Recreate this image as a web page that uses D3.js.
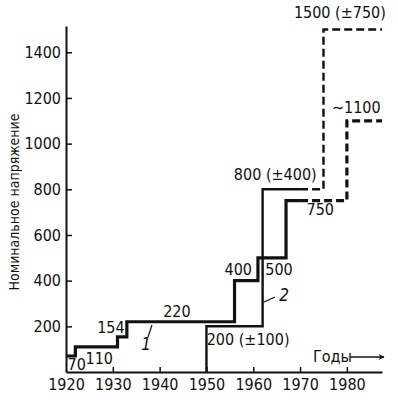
<!DOCTYPE html>
<html>
<head>
<meta charset="utf-8">
<script src="https://cdn.jsdelivr.net/npm/d3@7"></script>
<style>
  body { margin: 0; background: #fff; }
  text { font-family: "DejaVu Sans Condensed", sans-serif; fill: #111; }
</style>
</head>
<body>
<div class="svg-container"></div>
<script>
// line 1 (solid then projected)
var years1 = [1920, 1922, 1931, 1933, 1956, 1961, 1967, 1980];
var volts1 = [70, 110, 154, 220, 400, 500, 750, 1100];
// line 2
var years2 = [1950, 1950, 1962, 1975];
var volts2 = [0, 200, 800, 1500];
var solidUntil = 1970;
var lastYear = 1987.5;

var xTicks = [1920, 1930, 1940, 1950, 1960, 1970, 1980];
var yTicks = [200, 400, 600, 800, 1000, 1200, 1400];

// label text anchored at [year, value]
var labels = [
  ["70", 1922.3, 9],
  ["110", 1927.1, 35],
  ["154", 1929.6, 171],
  ["220", 1943.7, 241],
  ["200 (±100)", 1958.9, 120],
  ["400", 1956.8, 425],
  ["500", 1965.5, 425],
  ["750", 1974.3, 687],
  ["800 (±400)", 1964.7, 840],
  ["∼1100", 1982, 1134],
  ["1500 (±750)", 1978.5, 1550]
];

var width = 398, height = 400;
var svg = d3.select(".svg-container").append("svg")
  .attr("width", width)
  .attr("height", height);

var x = d3.scaleLinear().domain([1920, lastYear]).range([66, 382]);
var y = d3.scaleLinear().domain([0, 1515]).range([372, 26]);

// axes
var xAxis = d3.axisBottom(x).tickValues(xTicks).tickFormat(d3.format("d"))
  .tickSizeInner(-5).tickSizeOuter(0).tickPadding(7);
var yAxis = d3.axisLeft(y).tickValues(yTicks).tickFormat(d3.format("d"))
  .tickSizeInner(-6).tickSizeOuter(0).tickPadding(5);

var gx = svg.append("g").attr("transform", "translate(0," + y(0) + ")").call(xAxis);
var gy = svg.append("g").attr("transform", "translate(" + x(1920) + ",0)").call(yAxis);
[gx, gy].forEach(function(g) {
  g.select(".domain").attr("stroke", "#111").attr("stroke-width", 2);
  g.selectAll(".tick line").attr("stroke", "#111").attr("stroke-width", 1.5);
  g.selectAll(".tick text").attr("font-size", 16)
    .attr("font-family", "DejaVu Sans Condensed, sans-serif")
    .attr("fill", "#111");
});
gx.selectAll(".tick line").filter(function(d) { return d === 1920; }).remove();

svg.append("text")
  .attr("transform", "translate(19," + 202 + ") rotate(-90)")
  .attr("text-anchor", "middle")
  .attr("font-size", 14)
  .text("Номинальное напряжение");

// split a step series into solid and projected parts
function splitSeries(years, vals) {
  var pts = years.map(function(yr, i) { return [yr, vals[i]]; });
  pts.push([lastYear, vals[vals.length - 1]]);
  var cutVal = 0;
  pts.forEach(function(p) { if (p[0] <= solidUntil) cutVal = p[1]; });
  var solid = pts.filter(function(p) { return p[0] < solidUntil; });
  solid.push([solidUntil, cutVal]);
  var dashed = [[solidUntil, cutVal]].concat(pts.filter(function(p) { return p[0] > solidUntil; }));
  return {solid: solid, dashed: dashed};
}

var line = d3.line()
  .x(function(d) { return x(d[0]); })
  .y(function(d) { return y(d[1]); })
  .curve(d3.curveStepAfter);

function drawSeries(years, vals, w) {
  var s = splitSeries(years, vals);
  svg.append("path").datum(s.solid).attr("d", line)
    .attr("fill", "none").attr("stroke", "#111").attr("stroke-width", w)
    .attr("stroke-linejoin", "miter");
  svg.append("path").datum(s.dashed).attr("d", line)
    .attr("fill", "none").attr("stroke", "#111").attr("stroke-width", w)
    .attr("stroke-dasharray", "8,4");
}
drawSeries(years1, volts1, 3.2);
drawSeries(years2, volts2, 2.4);

// value labels
svg.append("g").selectAll("text").data(labels).enter().append("text")
  .attr("x", function(d) { return x(d[1]); })
  .attr("y", function(d) { return y(d[2]); })
  .attr("text-anchor", "middle")
  .attr("font-size", 16)
  .text(function(d) { return d[0]; });

// curve numbers with leader lines
svg.append("text").attr("x", x(1937.1)).attr("y", y(96))
  .attr("text-anchor", "middle").attr("font-size", 17).attr("font-style", "italic").text("1");
svg.append("line").attr("x1", 148).attr("y1", 337).attr("x2", 152).attr("y2", 325)
  .attr("stroke", "#111").attr("stroke-width", 1.2);
svg.append("text").attr("x", x(1966.6)).attr("y", y(312))
  .attr("text-anchor", "middle").attr("font-size", 17).attr("font-style", "italic").text("2");
svg.append("line").attr("x1", 264).attr("y1", 302).attr("x2", 275).attr("y2", 297)
  .attr("stroke", "#111").attr("stroke-width", 1.2);

// "Годы" with arrow
svg.append("defs").append("marker")
  .attr("id", "arrow")
  .attr("viewBox", "0 0 10 10")
  .attr("refX", 9).attr("refY", 5)
  .attr("markerUnits", "userSpaceOnUse")
  .attr("markerWidth", 10).attr("markerHeight", 6)
  .attr("orient", "auto")
  .append("path").attr("d", "M0,0 L10,5 L0,10 L3,5 z").attr("fill", "#111");
svg.append("text").attr("x", 313).attr("y", 362).attr("font-size", 16).text("Годы");
svg.append("line").attr("x1", 350).attr("y1", 357).attr("x2", 384).attr("y2", 357)
  .attr("stroke", "#111").attr("stroke-width", 1.3).attr("marker-end", "url(#arrow)");
</script>
</body>
</html>
